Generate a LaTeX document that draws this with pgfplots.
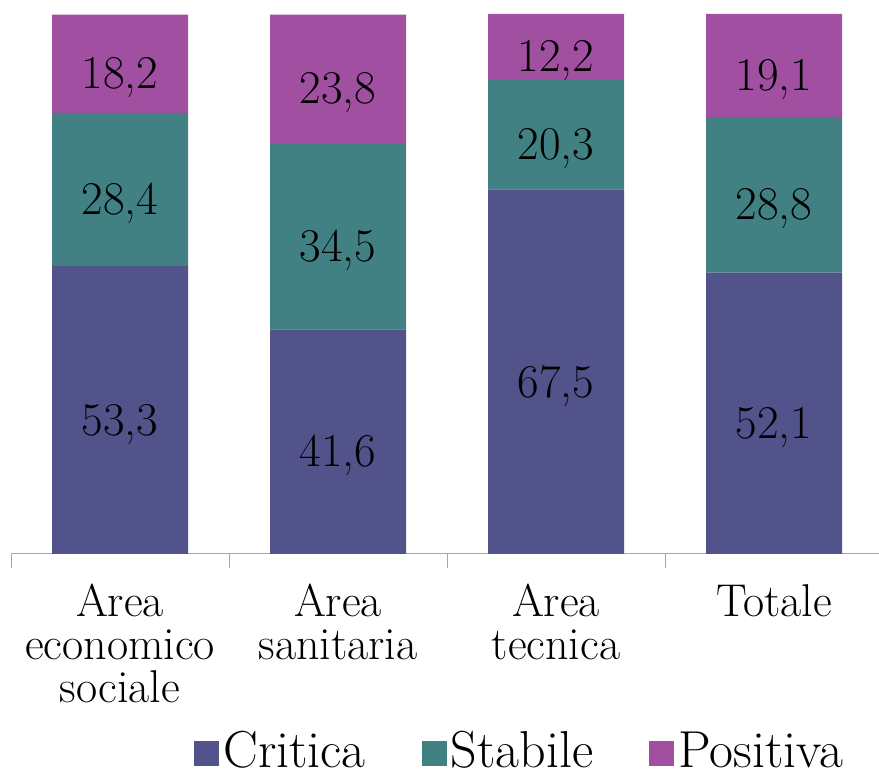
\documentclass[border=0pt]{standalone}
\usepackage{fontspec}
\usepackage{pgfplots}
\pgfplotsset{compat=1.18}
\definecolor{cCrit}{HTML}{52538A}
\definecolor{cStab}{HTML}{418083}
\definecolor{cPos}{HTML}{A14FA1}
\pgfplotsset{common/.style={
  at={(11pt,224pt)}, anchor=south west,
  scale only axis, width=872pt, height=540pt,
  xmin=-0.5, xmax=3.5, ymin=0, ymax=100}}
\begin{document}
\begin{tikzpicture}[x=1pt,y=1pt]
\useasboundingbox (0,0) rectangle (879,778);
\begin{axis}[common,
  ybar stacked, bar width=136pt,
  axis y line=none, axis x line*=bottom,
  x axis line style={draw=gray!70, line width=1pt, -},
  xtick={-0.5,0.5,1.5,2.5,3.5}, xticklabels={},
  tick align=outside, major tick length=14pt,
  tick style={draw=gray!70, line width=1pt},
  extra x ticks={0,1,2,3},
  extra x tick labels={Area\\economico\\sociale, Area\\sanitaria, Area\\tecnica, Totale},
  extra x tick style={tick style={draw=none}},
  xticklabel style={align=center, font=\fontsize{46}{43}\selectfont, inner sep=0pt, yshift=-16pt},
  legend columns=3,
  legend style={at={(0.21,-0.406)}, anchor=south west, draw=none, inner sep=0pt,
    font=\fontsize{52}{52}\selectfont,
    nodes={inner sep=4pt},
    /tikz/every even column/.append style={column sep=52pt}},
  legend image code/.code={\fill[#1] (0pt,-16pt) rectangle (25pt,9pt);},
]
\addplot[fill=cCrit, draw=none] coordinates {(0,53.3) (1,41.6) (2,67.5) (3,52.1)};
\addplot[fill=cStab, draw=none] coordinates {(0,28.4) (1,34.5) (2,20.3) (3,28.8)};
\addplot[fill=cPos, draw=none] coordinates {(0,18.2) (1,23.8) (2,12.2) (3,19.1)};
\legend{Critica, Stabile, Positiva}
\end{axis}
\begin{axis}[common, hide axis]
\addplot[draw=none, mark=none, nodes near coords, point meta=explicit symbolic,
  nodes near coords style={anchor=center, yshift=-14pt, font=\fontsize{47}{47}\selectfont, text=black}]
  table[meta=lab] {
x y lab
0 26.65 53,3
0 67.5 28,4
0 90.8 18,2
1 20.8 41,6
1 58.85 34,5
1 88.0 23,8
2 33.75 67,5
2 77.65 20,3
2 93.9 12,2
3 26.05 52,1
3 66.5 28,8
3 90.45 19,1
};
\end{axis}
\end{tikzpicture}
\end{document}
